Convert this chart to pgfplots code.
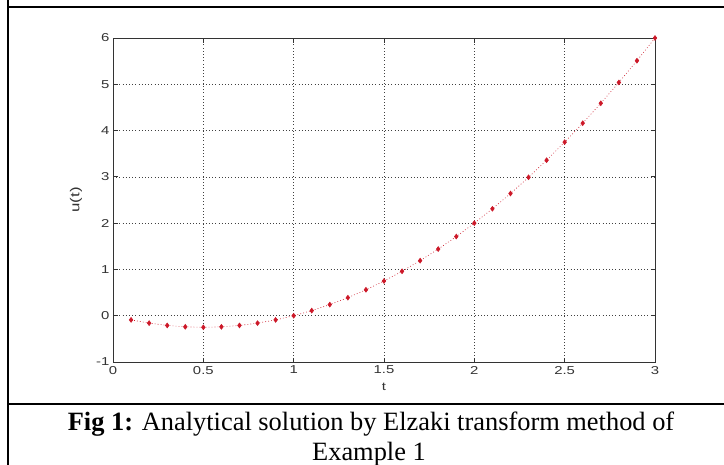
\documentclass[border=0pt]{standalone}
\usepackage{fontspec}
\setmainfont{Liberation Serif}
\newfontfamily\sansfont{Liberation Sans}[FakeStretch=1.3]
\usepackage{pgfplots}
\pgfplotsset{compat=1.18}
\definecolor{ptred}{RGB}{204,24,40}
\newcommand{\axfont}{\sansfont\fontsize{11.5}{13}\selectfont}

\begin{document}
\begin{tikzpicture}
\useasboundingbox (0,0) rectangle (724bp,-465bp);
% frame of the figure cell
\draw[line width=2.2bp] (8bp,0) -- (8bp,-465bp);
\draw[line width=2.2bp] (7bp,-7bp) -- (724bp,-7bp);
\draw[line width=1.8bp] (7bp,-404bp) -- (724bp,-404bp);
\begin{axis}[
  scale only axis,
  width=542bp, height=324bp,
  at={(113bp,-362bp)}, anchor=south west,
  xmin=0, xmax=3, ymin=-1, ymax=6,
  xtick={0,0.5,1,1.5,2,2.5,3},
  ytick={-1,0,1,2,3,4,5,6},
  grid=major,
  major grid style={black!75, line width=0.6bp, dash pattern=on 0.8bp off 2.4bp},
  axis line style={black!80, line width=0.8bp},
  major tick length=4.5bp,
  tick style={black!80, line width=0.8bp},
  /pgf/number format/assume math mode=true,
  tick label style={font=\axfont, text=black!80},
  xticklabel style={yshift=-0.5bp},
  every axis x label/.style={at={([yshift=-25bp]rel axis cs:0.5,0)}, anchor=center, font=\axfont, text=black!80},
  every axis y label/.style={at={([xshift=-37bp]rel axis cs:0,0.5)}, anchor=center, rotate=90, font=\sansfont\fontsize{13}{14}\selectfont, text=black!80},
  xlabel={t}, ylabel={u(t)},
]
\addplot[ptred, line width=0.6bp, dash pattern=on 0.8bp off 2.2bp,
  mark=diamond*, mark size=2.4bp, mark options={solid, fill=ptred, draw=ptred}]
coordinates {
(0.1,-0.09) (0.2,-0.16) (0.3,-0.21) (0.4,-0.24) (0.5,-0.25)
(0.6,-0.24) (0.7,-0.21) (0.8,-0.16) (0.9,-0.09) (1.0,0)
(1.1,0.11) (1.2,0.24) (1.3,0.39) (1.4,0.56) (1.5,0.75)
(1.6,0.96) (1.7,1.19) (1.8,1.44) (1.9,1.71) (2.0,2.00)
(2.1,2.31) (2.2,2.64) (2.3,2.99) (2.4,3.36) (2.5,3.75)
(2.6,4.16) (2.7,4.59) (2.8,5.04) (2.9,5.51) (3.0,6.00)
};
\end{axis}
\node[anchor=base, font=\fontsize{26.5}{30}\selectfont, inner sep=0pt] at (371bp,-430bp)
  {\textbf{Fig 1:} Analytical solution by Elzaki transform method of};
\node[anchor=base, font=\fontsize{26.5}{30}\selectfont, inner sep=0pt] at (369bp,-460bp)
  {Example 1};
\end{tikzpicture}
\end{document}
